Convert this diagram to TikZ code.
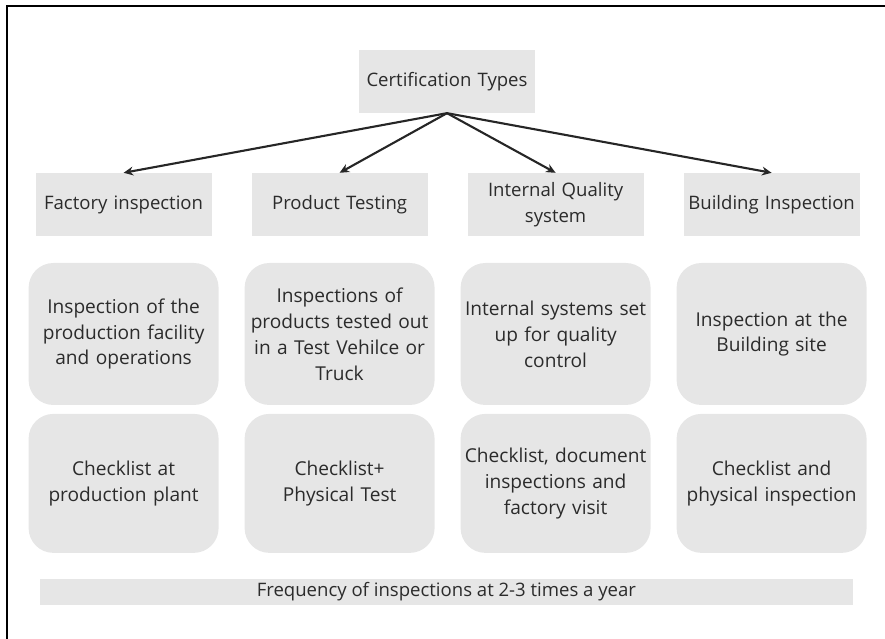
\documentclass[tikz,border=0pt]{standalone}
\usepackage{fontspec}
\setmainfont{Open Sans}
\usepackage{xcolor}
\usepackage{tikz}
\usetikzlibrary{arrows.meta, positioning}
\definecolor{boxgray}{HTML}{E6E6E6}
\definecolor{textgray}{HTML}{2B2B2B}

\begin{document}
\begin{tikzpicture}[
        font=\fontsize{13.2}{18.1}\selectfont,
        header/.style={
            fill=boxgray,
            text=textgray,
            text width=4.2cm,
            align=center,
            minimum width=4.4cm,
            minimum height=1.575cm,
            inner sep=0pt
        },
        detail/.style={
            fill=boxgray,
            text=textgray,
            rounded corners=0.62cm,
            text width=4.7cm,
            align=center,
            minimum width=4.75cm,
            inner sep=0pt,
            font=\fontsize{13.6}{18.4}\selectfont
        },
        band/.style={
            fill=boxgray,
            text=textgray,
            minimum width=20.325cm,
            minimum height=0.65cm,
            inner sep=0pt
        },
        arrow/.style={-{Stealth[length=2.4mm, width=2.2mm]}, line width=1.5pt, draw=black!85}
    ]
        \useasboundingbox (0,0) rectangle (22.125,15.975);
        \draw[line width=1.6pt] (0.175,-1) |- (23,15.825);

        \node[header] (types) at (11.175,13.94) {Certification Types};

        \node[header] (factory) at (3.09,10.86) {Factory inspection};
        \node[header] (product) at (8.49,10.86) {Product Testing};
        \node[header] (quality) at (13.89,10.86) {Internal Quality\\system};
        \node[header] (building) at (19.29,10.86) {Building Inspection};

        \node[detail, minimum height=3.55cm] (factorywhat) at (3.09,7.625) {Inspection of the\\production facility\\and operations};
        \node[detail, minimum height=3.55cm] (productwhat) at (8.49,7.625) {Inspections of\\products tested out\\in a Test Vehilce or\\Truck};
        \node[detail, minimum height=3.55cm] (qualitywhat) at (13.89,7.625) {Internal systems set\\up for quality\\control};
        \node[detail, minimum height=3.55cm] (buildingwhat) at (19.29,7.625) {Inspection at the\\Building site};

        \node[detail, minimum height=3.475cm] (factoryhow) at (3.09,3.89) {Checklist at\\production plant};
        \node[detail, minimum height=3.475cm] (producthow) at (8.49,3.89) {Checklist+\\Physical Test};
        \node[detail, minimum height=3.475cm] (qualityhow) at (13.89,3.89) {Checklist, document\\inspections and\\factory visit};
        \node[detail, minimum height=3.475cm] (buildinghow) at (19.29,3.89) {Checklist and\\physical inspection};

        \node[band] (frequency) at (11.16,1.175) {Frequency of inspections at 2-3 times a year};

        \draw[arrow] (types.south) -- (factory.north);
        \draw[arrow] (types.south) -- (product.north);
        \draw[arrow] (types.south) -- (quality.north);
        \draw[arrow] (types.south) -- (building.north);
    \end{tikzpicture}
\end{document}
